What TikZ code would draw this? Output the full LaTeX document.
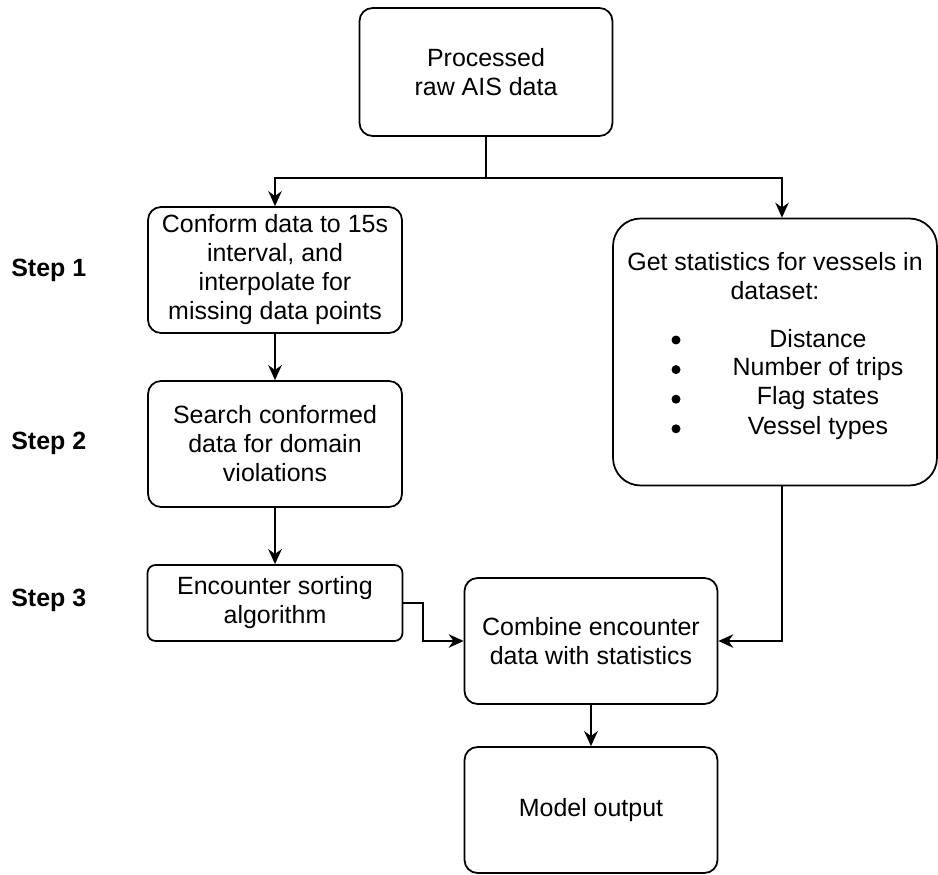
\documentclass[tikz,border=0pt]{standalone}
\usepackage{fontspec}
\setmainfont{Liberation Sans}
\usetikzlibrary{arrows.meta}
\usetikzlibrary{positioning}
\tikzset{>={Stealth[length=0.3cm, width=0.27cm]}}

\begin{document}
\begin{tikzpicture}[x=0.02cm, y=-0.02cm, font=\fontsize{14.2}{16.5}\selectfont,
        box/.style={draw, line width=1pt, rounded corners=0.26cm, align=center, inner sep=0pt,
                    minimum width=5.08cm, minimum height=2.52cm},
        dot/.style={circle, fill, inner sep=0pt, minimum size=0.18cm},
        link/.style={->, line width=1pt},
        steplabel/.style={anchor=west, inner sep=0pt, font=\fontsize{14.2}{16.5}\selectfont\bfseries}]
    \useasboundingbox (0, 0) rectangle (938, 875);

    \node (proc) [box, minimum width=5.06cm, minimum height=2.56cm] at (486, 72) {Processed\\raw AIS data};
    \node (conform) [box] at (275, 270) {Conform data to 15s\\interval, and\\interpolate for\\missing data points};
    \node (search) [box] at (275, 444) {Search conformed\\data for domain\\violations};
    \node (encounter) [box, minimum width=5.1cm, minimum height=1.52cm, rounded corners=0.16cm] at (275, 603) {Encounter sorting\\algorithm};
    \node (stats) [box, minimum width=6.48cm, minimum height=5.34cm, rounded corners=0.55cm] at (775, 352) {};
    \node (combine) [box, minimum width=5.06cm] at (591, 641) {Combine encounter\\data with statistics};
    \node (model) [box, minimum width=5.06cm] at (591, 810) {Model output};

    \node (statstitle) [align=center] at (775, 276) {Get statistics for vessels in\\dataset:};
    \foreach \item [count=\i from 0] in {Distance, Number of trips, Flag states, Vessel types} {
        \node (bullet\i) [dot] at (676, 340 + 29.6*\i) {};
        \node (item\i) at (818, 339 + 29.6*\i) {\item};
    }

    \node (step1) [steplabel] at (11, 270) {Step 1};
    \node (step2) [steplabel] at (11, 443) {Step 2};
    \node (step3) [steplabel] at (11, 600) {Step 3};

    \coordinate (fork) at (486, 178);
    \draw [line width=1pt] (proc) -- (fork);
    \draw [link] (fork) -| (conform);
    \draw [link] (fork) -| ([xshift=0.14cm]stats.north);
    \draw [link, line width=1.4pt] (conform) -- (search);
    \draw [link, line width=1.4pt] (search) -- (encounter);
    \draw [link] (encounter.east) -- ++(20, 0) |- (combine.west);
    \draw [link] ([xshift=0.14cm]stats.south) |- (combine.east);
    \draw [link, line width=1.4pt] (combine) -- (model);
\end{tikzpicture}
\end{document}
